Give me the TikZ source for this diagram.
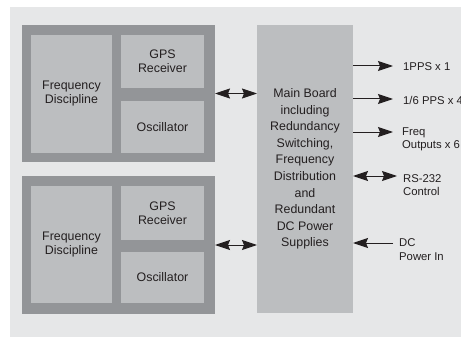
\documentclass[tikz,border=0pt]{standalone}
\usepackage{fontspec}
\setmainfont{Liberation Sans}
\usetikzlibrary{arrows.meta}
\definecolor{panel}{HTML}{E6E7E8}
\definecolor{frame}{HTML}{939598}
\definecolor{card}{HTML}{BCBEC0}
\definecolor{ink}{HTML}{231F20}
\begin{document}
\begin{tikzpicture}[x=1pt,y=-1pt,
  blk/.style={inner sep=0pt, outer sep=0pt, anchor=north west, align=center,
    text=ink, font=\fontsize{12.4}{14}\selectfont},
  unitbox/.style={blk, fill=frame},
  cardbox/.style={blk, fill=card},
  lab/.style={anchor=west, align=left, inner sep=0pt, text=ink,
    font=\fontsize{11.3}{13.4}\selectfont},
  conn/.style={draw=ink, line width=1pt, -{Stealth[length=15pt,width=10pt,inset=2pt]}},
  dconn/.style={draw=ink, line width=1pt,
    {Stealth[length=15pt,width=10pt,inset=2pt]}-{Stealth[length=15pt,width=10pt,inset=2pt]}}]
\useasboundingbox (0,0) rectangle (461,337);
\fill[panel] (10,7) rectangle (461,337);

% upper GPS unit
\node[unitbox, minimum width=193pt, minimum height=137pt] (u1) at (22,25) {};
\node[cardbox, minimum width=81pt, minimum height=118pt] (fd1) at (31,35) {Frequency\\Discipline};
\node[cardbox, minimum width=83pt, minimum height=53pt] (gps1) at (121,35) {GPS\\Receiver};
\node[cardbox, minimum width=83pt, minimum height=52pt] (osc1) at (121,101) {Oscillator};

% lower GPS unit
\node[unitbox, minimum width=193pt, minimum height=138pt] (u2) at (22,176) {};
\node[cardbox, minimum width=81pt, minimum height=117pt] (fd2) at (31,186) {Frequency\\Discipline};
\node[cardbox, minimum width=83pt, minimum height=54pt] (gps2) at (121,186) {GPS\\Receiver};
\node[cardbox, minimum width=83pt, minimum height=51pt] (osc2) at (121,252) {Oscillator};

% main board
\node[cardbox, minimum width=96pt, minimum height=288pt,
  font=\fontsize{12.4}{16.6}\selectfont] (main) at (257,25)
  {Main Board\\including\\Redundancy\\Switching,\\Frequency\\Distribution\\and\\Redundant\\DC Power\\Supplies};

% unit links
\draw[dconn] (u1.east) -- (main.west |- u1.east);
\draw[dconn] (u2.east) -- (main.west |- u2.east);

% outputs and inputs
\coordinate (t1) at (393,66);
\coordinate (t2) at (393,99);
\coordinate (t3) at (393,132);
\coordinate (t4) at (397,176);
\coordinate (t5) at (393,243);

\node[lab] (l1) at (403,66.7) {1PPS x 1};
\node[lab] (l2) at (403,100) {1/6 PPS x 4};
\node[lab] (l3) at (402,139) {Freq\\Outputs x 6};
\node[lab] (l4) at (403,185) {RS-232\\Control};
\node[lab] (l5) at (399,249.7) {DC\\Power In};

\draw[conn] (main.east |- t1) -- (t1);
\draw[conn] (main.east |- t2) -- (t2);
\draw[conn] (main.east |- t3) -- (t3);
\draw[dconn] (main.east |- t4) -- (t4);
\draw[conn] (t5) -- (main.east |- t5);
\end{tikzpicture}
\end{document}
